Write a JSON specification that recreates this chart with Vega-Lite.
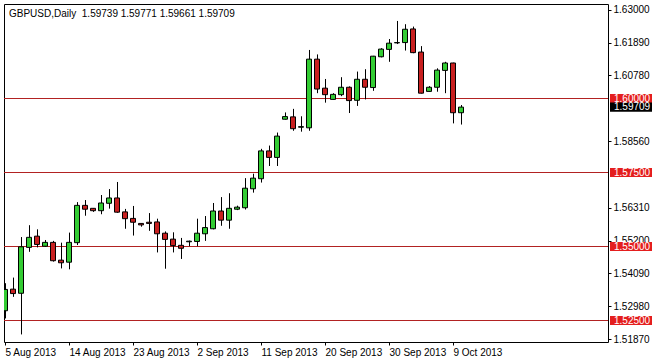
{
  "$schema": "https://vega.github.io/schema/vega-lite/v6.json",
  "autosize": {"type": "none"},
  "padding": {"left": 4, "top": 4, "right": 45, "bottom": 20},
  "width": 604,
  "height": 338,
  "background": "white",
  "config": {"view": {"stroke": "#000000", "strokeWidth": 1, "fill": "white"}, "font": "Liberation Sans"},
  "title": {"text": "GBPUSD,Daily\u00a0 1.59739 1.59771 1.59661 1.59709", "anchor": "start", "frame": "group", "offset": -15, "dx": 5, "fontSize": 10, "fontWeight": "normal", "font": "Liberation Sans", "color": "#000000"},
  "datasets": {
    "candles": [
      {"d": "2013-08-05", "o": 1.5283, "h": 1.5376, "l": 1.5257, "c": 1.5355},
      {"d": "2013-08-06", "o": 1.5356, "h": 1.5395, "l": 1.5330, "c": 1.5341},
      {"d": "2013-08-07", "o": 1.5342, "h": 1.5532, "l": 1.5203, "c": 1.5499},
      {"d": "2013-08-08", "o": 1.5497, "h": 1.5572, "l": 1.5482, "c": 1.5531},
      {"d": "2013-08-09", "o": 1.5535, "h": 1.5558, "l": 1.5497, "c": 1.5507},
      {"d": "2013-08-11", "o": 1.5501, "h": 1.5522, "l": 1.5499, "c": 1.5514},
      {"d": "2013-08-12", "o": 1.5514, "h": 1.5519, "l": 1.5449, "c": 1.5452},
      {"d": "2013-08-13", "o": 1.5454, "h": 1.5513, "l": 1.5426, "c": 1.5445},
      {"d": "2013-08-14", "o": 1.5447, "h": 1.5547, "l": 1.5423, "c": 1.5514},
      {"d": "2013-08-15", "o": 1.5513, "h": 1.5650, "l": 1.5505, "c": 1.5639},
      {"d": "2013-08-16", "o": 1.5639, "h": 1.5657, "l": 1.5604, "c": 1.5626},
      {"d": "2013-08-18", "o": 1.5629, "h": 1.5630, "l": 1.5617, "c": 1.5621},
      {"d": "2013-08-19", "o": 1.5621, "h": 1.5674, "l": 1.5609, "c": 1.5647},
      {"d": "2013-08-20", "o": 1.5646, "h": 1.5694, "l": 1.5628, "c": 1.5664},
      {"d": "2013-08-21", "o": 1.5664, "h": 1.5718, "l": 1.5614, "c": 1.5616},
      {"d": "2013-08-22", "o": 1.5617, "h": 1.5627, "l": 1.5560, "c": 1.5594},
      {"d": "2013-08-23", "o": 1.5595, "h": 1.5637, "l": 1.5537, "c": 1.5582},
      {"d": "2013-08-25", "o": 1.5578, "h": 1.5579, "l": 1.5567, "c": 1.5573},
      {"d": "2013-08-26", "o": 1.5582, "h": 1.5613, "l": 1.5553, "c": 1.5578},
      {"d": "2013-08-27", "o": 1.5583, "h": 1.5594, "l": 1.5480, "c": 1.5543},
      {"d": "2013-08-28", "o": 1.5545, "h": 1.5551, "l": 1.5425, "c": 1.5524},
      {"d": "2013-08-29", "o": 1.5525, "h": 1.5548, "l": 1.5480, "c": 1.5503},
      {"d": "2013-08-30", "o": 1.5504, "h": 1.5529, "l": 1.5458, "c": 1.5494},
      {"d": "2013-09-01", "o": 1.5516, "h": 1.5520, "l": 1.5501, "c": 1.5518},
      {"d": "2013-09-02", "o": 1.5517, "h": 1.5594, "l": 1.5501, "c": 1.5545},
      {"d": "2013-09-03", "o": 1.5543, "h": 1.5603, "l": 1.5519, "c": 1.5564},
      {"d": "2013-09-04", "o": 1.5560, "h": 1.5647, "l": 1.5558, "c": 1.5620},
      {"d": "2013-09-05", "o": 1.5620, "h": 1.5667, "l": 1.5570, "c": 1.5589},
      {"d": "2013-09-06", "o": 1.5589, "h": 1.5680, "l": 1.5560, "c": 1.5629},
      {"d": "2013-09-08", "o": 1.5626, "h": 1.5638, "l": 1.5623, "c": 1.5633},
      {"d": "2013-09-09", "o": 1.5631, "h": 1.5731, "l": 1.5625, "c": 1.5697},
      {"d": "2013-09-10", "o": 1.5695, "h": 1.5746, "l": 1.5682, "c": 1.5731},
      {"d": "2013-09-11", "o": 1.5729, "h": 1.5830, "l": 1.5716, "c": 1.5823},
      {"d": "2013-09-12", "o": 1.5823, "h": 1.5841, "l": 1.5772, "c": 1.5801},
      {"d": "2013-09-13", "o": 1.5801, "h": 1.5885, "l": 1.5772, "c": 1.5873},
      {"d": "2013-09-15", "o": 1.5930, "h": 1.5953, "l": 1.5929, "c": 1.5939},
      {"d": "2013-09-16", "o": 1.5938, "h": 1.5965, "l": 1.5891, "c": 1.5898},
      {"d": "2013-09-17", "o": 1.5903, "h": 1.5940, "l": 1.5888, "c": 1.5905},
      {"d": "2013-09-18", "o": 1.5901, "h": 1.6164, "l": 1.5891, "c": 1.6133},
      {"d": "2013-09-19", "o": 1.6133, "h": 1.6149, "l": 1.6018, "c": 1.6032},
      {"d": "2013-09-20", "o": 1.6035, "h": 1.6066, "l": 1.5986, "c": 1.6013},
      {"d": "2013-09-22", "o": 1.5997, "h": 1.6018, "l": 1.5996, "c": 1.6014},
      {"d": "2013-09-23", "o": 1.6013, "h": 1.6072, "l": 1.6008, "c": 1.6038},
      {"d": "2013-09-24", "o": 1.6038, "h": 1.6041, "l": 1.5951, "c": 1.5993},
      {"d": "2013-09-25", "o": 1.5994, "h": 1.6091, "l": 1.5975, "c": 1.6065},
      {"d": "2013-09-26", "o": 1.6065, "h": 1.6099, "l": 1.5997, "c": 1.6038},
      {"d": "2013-09-27", "o": 1.6037, "h": 1.6144, "l": 1.6026, "c": 1.6143},
      {"d": "2013-09-29", "o": 1.6141, "h": 1.6170, "l": 1.6139, "c": 1.6167},
      {"d": "2013-09-30", "o": 1.6166, "h": 1.6201, "l": 1.6124, "c": 1.6187},
      {"d": "2013-10-01", "o": 1.6188, "h": 1.6262, "l": 1.6184, "c": 1.6189},
      {"d": "2013-10-02", "o": 1.6189, "h": 1.6251, "l": 1.6162, "c": 1.6234},
      {"d": "2013-10-03", "o": 1.6235, "h": 1.6243, "l": 1.6153, "c": 1.6155},
      {"d": "2013-10-04", "o": 1.6157, "h": 1.6177, "l": 1.6017, "c": 1.6018},
      {"d": "2013-10-06", "o": 1.6024, "h": 1.6042, "l": 1.6023, "c": 1.6038},
      {"d": "2013-10-07", "o": 1.6038, "h": 1.6102, "l": 1.6023, "c": 1.6096},
      {"d": "2013-10-08", "o": 1.6095, "h": 1.6124, "l": 1.6018, "c": 1.6120},
      {"d": "2013-10-09", "o": 1.6120, "h": 1.6121, "l": 1.5916, "c": 1.5952},
      {"d": "2013-10-10", "o": 1.5952, "h": 1.5978, "l": 1.5912, "c": 1.5971}
    ],
    "levels": [
      {"price": 1.6, "kind": "level"},
      {"price": 1.575, "kind": "level"},
      {"price": 1.55, "kind": "level"},
      {"price": 1.525, "kind": "level"},
      {"price": 1.59709, "kind": "last"}
    ]
  },
  "layer": [
    {
      "data": {"name": "levels"},
      "transform": [{"filter": "datum.kind === 'level'"}],
      "mark": {"type": "rule", "color": "#B22222", "strokeWidth": 1},
      "encoding": {
        "y": {
          "field": "price", "type": "quantitative", "title": null,
          "scale": {"domain": [1.51774, 1.63193], "nice": false, "zero": false},
          "axis": {"orient": "right", "values": [1.63, 1.6189, 1.6078, 1.5856, 1.5631, 1.552, 1.5409, 1.5298, 1.5187], "format": ".5f", "title": null, "domain": false, "grid": false, "ticks": true, "tickSize": 3, "tickColor": "#000000", "labelPadding": 2, "labelFontSize": 10, "labelFont": "Liberation Sans", "labelColor": "#000000", "labelOverlap": false, "labelFlush": false, "labelBound": false}
        }
      }
    },
    {
      "data": {"name": "candles"},
      "mark": {"type": "rule", "color": "#000000", "strokeWidth": 1, "xOffset": 0.5, "clip": true},
      "encoding": {
        "x": {
          "field": "d", "type": "ordinal", "title": null,
          "scale": {"type": "point", "padding": 0, "rangeMin": 1, "rangeMax": 601,
            "domain": ["2013-08-05","2013-08-06","2013-08-07","2013-08-08","2013-08-09","2013-08-11","2013-08-12","2013-08-13","2013-08-14","2013-08-15","2013-08-16","2013-08-18","2013-08-19","2013-08-20","2013-08-21","2013-08-22","2013-08-23","2013-08-25","2013-08-26","2013-08-27","2013-08-28","2013-08-29","2013-08-30","2013-09-01","2013-09-02","2013-09-03","2013-09-04","2013-09-05","2013-09-06","2013-09-08","2013-09-09","2013-09-10","2013-09-11","2013-09-12","2013-09-13","2013-09-15","2013-09-16","2013-09-17","2013-09-18","2013-09-19","2013-09-20","2013-09-22","2013-09-23","2013-09-24","2013-09-25","2013-09-26","2013-09-27","2013-09-29","2013-09-30","2013-10-01","2013-10-02","2013-10-03","2013-10-04","2013-10-06","2013-10-07","2013-10-08","2013-10-09","2013-10-10","2013-10-11","2013-10-13","2013-10-14","2013-10-15","2013-10-16","2013-10-17","2013-10-18","2013-10-20","2013-10-21","2013-10-22","2013-10-23","2013-10-24","2013-10-25","2013-10-27","2013-10-28","2013-10-29","2013-10-30","2013-10-31"]},
          "axis": {"orient": "bottom", "values": ["2013-08-05","2013-08-14","2013-08-23","2013-09-02","2013-09-11","2013-09-20","2013-09-30","2013-10-09"], "labelExpr": "utcFormat(toDate(datum.value), '%-d %b %Y')", "title": null, "domain": false, "grid": false, "ticks": true, "tickSize": 3, "tickColor": "#000000", "labelAlign": "left", "labelBaseline": "top", "labelPadding": 2, "labelFontSize": 10, "labelFont": "Liberation Sans", "labelColor": "#000000", "labelAngle": 0, "labelOverlap": false, "labelFlush": false, "labelBound": false}
        },
        "y": {"field": "l", "type": "quantitative", "title": null},
        "y2": {"field": "h"}
      }
    },
    {
      "data": {"name": "candles"},
      "mark": {"type": "bar", "width": 5, "stroke": "#000000", "strokeWidth": 1, "clip": true},
      "encoding": {
        "x": {"field": "d", "type": "ordinal", "title": null},
        "y": {"field": "o", "type": "quantitative", "title": null},
        "y2": {"field": "c"},
        "fill": {"condition": {"test": "datum.c >= datum.o", "value": "#33CC33"}, "value": "#C82020"}
      }
    },
    {
      "data": {"name": "levels"},
      "mark": {"type": "point", "shape": "M-1,-0.215H1V0.215H-1Z", "size": 1764, "filled": true, "opacity": 1, "strokeWidth": 0, "xOffset": 26},
      "encoding": {
        "x": {"datum": "2013-10-31", "type": "ordinal", "title": null},
        "y": {"field": "price", "type": "quantitative", "title": null},
        "color": {"condition": {"test": "datum.kind === 'last'", "value": "#000000"}, "value": "#E41E1E"}
      }
    },
    {
      "data": {"name": "levels"},
      "mark": {"type": "text", "align": "left", "baseline": "middle", "dx": 9, "fontSize": 10, "font": "Liberation Sans", "color": "#FFFFFF"},
      "encoding": {
        "x": {"datum": "2013-10-31", "type": "ordinal", "title": null},
        "y": {"field": "price", "type": "quantitative", "title": null},
        "text": {"field": "price", "type": "quantitative", "format": ".5f"}
      }
    }
  ]
}
